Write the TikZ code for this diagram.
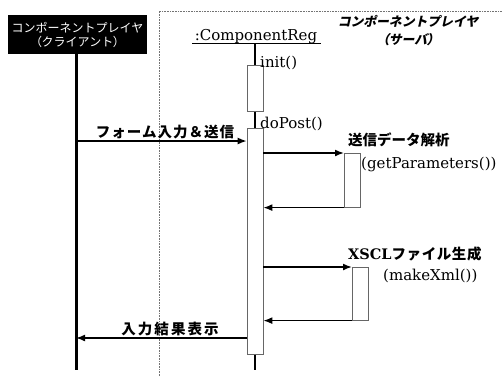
\documentclass[tikz,border=0pt]{standalone}
\usepackage{fontspec}
\newfontfamily\jp{Noto Sans CJK JP}
\newfontfamily\jpp[RawFeature=+palt]{Noto Sans CJK JP}
\newfontfamily\jpit[FakeSlant=0.22]{Noto Sans CJK JP}
\newfontfamily\jpitp[FakeSlant=0.22,RawFeature=+palt]{Noto Sans CJK JP}
\newfontfamily\lat{DejaVu Serif}
\usetikzlibrary{arrows.meta}
\tikzset{
  jplabel/.style={font=\jp\bfseries\fontsize{14.5}{16}\selectfont, inner sep=0pt},
  latlabel/.style={font=\lat\fontsize{15}{17}\selectfont, inner sep=0pt},
  actbox/.style={draw=black!60, line width=0.6pt, fill=white},
  lifeline/.style={line width=2.2pt},
  msg/.style={line width=1.6pt, -{Latex[length=9pt,width=7pt]}},
  frame/.style={draw=black!55, line width=0.6pt, densely dotted},
}
\begin{document}
\begin{tikzpicture}[x=1pt,y=-1pt]
\useasboundingbox (0,0) rectangle (502,376);
% server frame
\coordinate (fbl) at (159,376);
\coordinate (ftl) at (159,11);
\coordinate (ftr) at (502,11);
\draw[frame] (fbl) -- (ftl) -- (ftr);
% client
\node[fill=black, text=white, minimum width=139pt, minimum height=39pt, inner sep=0pt, align=center,
      font=\jp\fontsize{12}{14}\selectfont] (client) at (77.5,34.5)
      {コンポーネントプレイヤ\\{\jpp（}クライアント{\jpp）}};
\coordinate (cend) at (76,370);
\draw[line width=3pt] (client.south -| cend) -- (cend);
% server header
\node[font=\jpit\bfseries\fontsize{12.8}{18}\selectfont, align=center, inner sep=0pt] (server) at (408,31)
      {コンポーネントプレイヤ\\{\jpitp\bfseries（}サーバ{\jpitp\bfseries）}};
% ComponentReg
\node[latlabel, anchor=base] (reg) at (256,40) {:ComponentReg};
\coordinate (ul1) at (192,43);
\coordinate (ul2) at (321,43);
\draw[line width=0.8pt] (ul1) -- (ul2);
\node[actbox, minimum width=16pt, minimum height=46pt, anchor=north, inner sep=0pt] (init) at (255,65) {};
\node[actbox, minimum width=16pt, minimum height=226pt, anchor=north, inner sep=0pt] (post) at (255,128) {};
\coordinate (regend) at (255,370);
\draw[lifeline] (ul1 -| init.north) -- (init.north);
\draw[lifeline] (init.south) -- (post.north);
\draw[lifeline] (post.south) -- (regend);
\node[latlabel, anchor=base west] (initl) at (260,67) {init()};
\node[latlabel, anchor=base west] (postl) at (260,128) {doPost()};
% message 1
\coordinate (m1) at (76,141);
\draw[msg] (m1) -- (m1 -| post.west);
\node[jplabel, anchor=base] (m1l) at (165,137) {\addfontfeature{LetterSpace=7}フォーム入力＆送信};
% self call 1
\node[actbox, minimum width=16pt, minimum height=54pt, anchor=north west, inner sep=0pt] (parse) at (344,153) {};
\draw[msg] (parse.north west -| post.east) -- (parse.north west);
\draw[msg] (parse.south west) -- (parse.south west -| post.east);
\node[jplabel, anchor=base west] (parsel) at (348,145) {送信データ解析};
\node[latlabel, anchor=base west] (parsem) at (361,168) {(getParameters())};
% self call 2
\node[actbox, minimum width=16pt, minimum height=53pt, anchor=north west, inner sep=0pt] (make) at (352,267) {};
\draw[msg] (make.north west -| post.east) -- (make.north west);
\draw[msg] (make.south west) -- (make.south west -| post.east);
\node[jplabel, anchor=base west] (makel) at (348,259) {{\lat\bfseries XSCL}\addfontfeature{LetterSpace=4}ファイル生成};
\node[latlabel, anchor=base west] (makem) at (383,280) {(makeXml())};
% return
\coordinate (r1) at (76,338);
\draw[msg] (r1 -| post.west) -- (r1);
\node[jplabel, anchor=base] (r1l) at (170,334) {\addfontfeature{LetterSpace=14}入力結果表示};
\end{tikzpicture}
\end{document}
